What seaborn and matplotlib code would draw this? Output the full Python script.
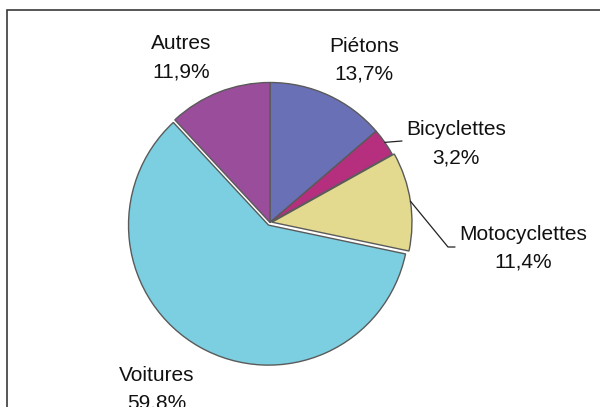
import numpy as np
import matplotlib
matplotlib.use("Agg")
import matplotlib.pyplot as plt
from matplotlib.patches import Rectangle
import seaborn as sns

# ── Data ───────────────────────────────────────────────
categories = ["Piétons", "Bicyclettes", "Motocyclettes", "Voitures", "Autres"]
shares = [13.7, 3.2, 11.4, 59.8, 11.9]
share_labels = ["13,7%", "3,2%", "11,4%", "59.8%", "11,9%"]
colors = ["#6A70B5", "#B52F7E", "#E3D98F", "#7BCFE1", "#9A4D9B"]

# ── Style ──────────────────────────────────────────────
sns.set_style("white")
plt.rcParams["font.family"] = ["Liberation Sans", "DejaVu Sans"]

W, H = 600, 407
fig = plt.figure(figsize=(6, 4.07), dpi=100)
ax = fig.add_axes([0, 0, 1, 1])

cx, cy, r = 270, H - 222.5, 140
explode = [0, 0, 2, 3, 0]  # pixel offsets
wedges, _ = ax.pie(shares, colors=colors, startangle=90, counterclock=False,
                   center=(cx, cy), radius=r, explode=explode,
                   wedgeprops=dict(edgecolor="#5a5a5a", linewidth=1))
ax.set_xlim(0, W)
ax.set_ylim(0, H)
ax.set_aspect("equal")
ax.axis("off")

# outer frame (only left/top visible in the crop)
ax.add_patch(Rectangle((7, -30), 800, H - 10 + 30, fill=False,
                       ec="#3a3a3a", lw=1.2, clip_on=False))

# labels: (x centre, last-line baseline) in image pixels
label_pos = {
    "Piétons": (364, 80),
    "Bicyclettes": (456, 163),
    "Motocyclettes": (523, 268),
    "Voitures": (157, 409),
    "Autres": (181, 77.5),
}
for name, pct in zip(categories, share_labels):
    x, y = label_pos[name]
    ax.text(x, H - y, f"{name}\n{pct}", ha="center", va="baseline",
            multialignment="center", fontsize=15, linespacing=1.62,
            color="#111111")


def edge_point(w):
    t = np.deg2rad((w.theta1 + w.theta2) / 2)
    return w.center[0] + w.r * np.cos(t), w.center[1] + w.r * np.sin(t)


# leader lines
bx, by = edge_point(wedges[1])
ax.plot([bx, 402], [by, H - 141], color="#222222", lw=0.9)
mx, my = edge_point(wedges[2])
ax.plot([mx, 448, 455], [my, H - 247, H - 247], color="#222222", lw=0.9)

fig.savefig("out.png", dpi=100)
